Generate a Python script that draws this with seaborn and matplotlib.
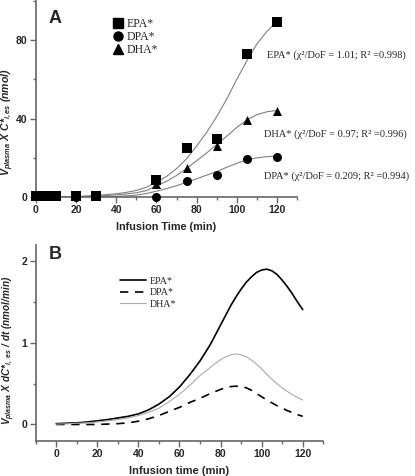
import seaborn as sns
import matplotlib.pyplot as plt
import matplotlib.ticker as mticker
from matplotlib.lines import Line2D
import pandas as pd

# panel A: measured points
t_meas = [0, 2, 4, 6, 8, 10, 20, 30, 60, 75, 90, 105, 120]
epa_meas = [0.5, 0.5, 0.5, 0.5, 0.5, 0.5, 0.4, 0.5, 8.5, 24.8, 29.4, 72.7, 89.5]
dpa_meas = [0.3, 0.3, 0.3, 0.3, 0.3, 0.3, 0.2, 0.3, 0.2, 8.3, 11.2, 19.2, 20.5]
dha_meas = [0.4, 0.4, 0.4, 0.4, 0.4, 0.4, 0.3, 0.4, 6.5, 14.6, 26.0, 39.2, 43.8]

# panel A: fitted curves
t_fit = [0, 10, 20, 30, 40, 45, 50, 55, 60, 65, 70, 75, 80, 85, 90, 95, 100, 105, 110, 115, 120]
epa_fit = [0, 0.1, 0.3, 0.8, 1.7, 2.4, 3.4, 5.0, 7.5, 10.5, 14.5, 19.5, 26, 33, 41, 50, 60, 69.5, 78, 84.5, 89.5]
dpa_fit = [0, 0, 0, 0, 0.3, 0.6, 1.0, 1.8, 3.0, 4.3, 5.8, 7.5, 9.3, 11.2, 13.0, 15.2, 17.2, 19.0, 20.0, 20.6, 20.9]
dha_fit = [0, 0.1, 0.2, 0.5, 1.1, 1.6, 2.2, 3.3, 5.8, 8.0, 11.0, 14.6, 18.5, 22.5, 26.8, 31.0, 35.5, 39.3, 42.0, 43.5, 44.2]
fit_notes = ["EPA* (χ²/DoF = 1.01; R² =0.998)",
             "DHA* (χ²/DoF = 0.97; R² =0.996)",
             "DPA* (χ²/DoF = 0.209; R² =0.994)"]

# panel B: rates
t_rate = [0, 5, 10, 15, 20, 25, 30, 35, 40, 45, 50, 55, 60, 65, 70, 75, 77.5, 80, 82.5, 85, 87.5, 90,
          92.5, 95, 97.5, 100, 102.5, 105, 107.5, 110, 112.5, 115, 117.5, 120]
epa_rate = [0.01, 0.015, 0.02, 0.03, 0.045, 0.06, 0.08, 0.10, 0.13, 0.18, 0.25, 0.34, 0.46, 0.61, 0.78, 0.98,
            1.10, 1.22, 1.34, 1.46, 1.565, 1.66, 1.745, 1.81, 1.865, 1.895, 1.905, 1.885, 1.84, 1.77,
            1.69, 1.60, 1.50, 1.41]
dpa_rate = [0, 0, 0, 0, 0, 0.005, 0.01, 0.02, 0.04, 0.07, 0.11, 0.16, 0.21, 0.27, 0.32, 0.38,
            0.405, 0.43, 0.45, 0.465, 0.47, 0.465, 0.45, 0.42, 0.38, 0.34, 0.30, 0.265, 0.23, 0.20,
            0.17, 0.145, 0.12, 0.10]
dha_rate = [0.005, 0.008, 0.015, 0.02, 0.03, 0.045, 0.06, 0.08, 0.11, 0.15, 0.2, 0.28, 0.37, 0.48, 0.6, 0.70,
            0.75, 0.795, 0.83, 0.855, 0.865, 0.855, 0.83, 0.79, 0.74, 0.68, 0.615, 0.555, 0.50, 0.45,
            0.405, 0.365, 0.33, 0.30]

sns.set_style("ticks")
plt.rcParams["font.family"] = ["Liberation Sans", "DejaVu Sans"]
plt.rcParams["mathtext.fontset"] = "custom"
plt.rcParams["mathtext.rm"] = "Liberation Sans:bold:italic"
plt.rcParams["mathtext.it"] = "Liberation Sans:bold:italic"
plt.rcParams["mathtext.bf"] = "Liberation Sans:bold:italic"
serif = ["Liberation Serif", "DejaVu Serif"]
spine_c = "#666666"

fig = plt.figure(figsize=(4.15, 4.76), dpi=100)
ax1 = fig.add_axes([0.0867, 0.586, 0.629, 0.412])
ax2 = fig.add_axes([0.086, 0.074, 0.693, 0.411])


def style_axes(ax):
    sns.despine(ax=ax)
    for s in ("left", "bottom"):
        ax.spines[s].set_color(spine_c)
        ax.spines[s].set_linewidth(1.2)
    ax.tick_params(which="major", direction="out", length=4, width=1, color=spine_c,
                   labelsize=7.5, pad=2)
    ax.tick_params(which="minor", direction="out", length=2.5, width=1, color=spine_c)
    for lab in ax.get_xticklabels() + ax.get_yticklabels():
        lab.set_fontweight("bold")


# ---- panel A ----
for y in (epa_fit, dha_fit, dpa_fit):
    sns.lineplot(x=t_fit, y=y, ax=ax1, color="#808080", linewidth=0.8)

meas = pd.DataFrame({"t": t_meas * 3,
                     "v": epa_meas + dpa_meas + dha_meas,
                     "s": ["EPA*"] * 13 + ["DPA*"] * 13 + ["DHA*"] * 13})
markers = {"EPA*": "s", "DPA*": "o", "DHA*": "^"}
for name, m in markers.items():
    d = meas[meas["s"] == name]
    sns.scatterplot(data=d, x="t", y="v", ax=ax1, marker=m, color="black", s=42,
                    edgecolor="black", linewidth=0, clip_on=False, zorder=5)

ax1.set_xlim(0, 130)
ax1.set_ylim(0, 100)
ax1.xaxis.set_major_locator(mticker.MultipleLocator(20))
ax1.xaxis.set_minor_locator(mticker.MultipleLocator(10))
ax1.yaxis.set_major_locator(mticker.FixedLocator([0, 40, 80]))
ax1.yaxis.set_minor_locator(mticker.FixedLocator([20, 60, 100]))
ax1.set_xlabel("Infusion Time (min)", fontsize=7.8, fontweight="bold", labelpad=5)
ax1.set_ylabel(r"$V_{plasma}$ X C*$_{i,es}$ (nmol)", fontsize=7.6,
               fontweight="bold", style="italic")
ax1.yaxis.set_label_coords(-0.078, 0.38)
style_axes(ax1)

h1 = [Line2D([], [], marker=m, color="black", linestyle="none", markersize=6.5)
      for m in markers.values()]
ax1.legend(h1, list(markers.keys()), loc="upper left", bbox_to_anchor=(0.27, 0.935),
           frameon=False, prop={"family": serif, "size": 8.5}, handletextpad=0.1,
           labelspacing=0.08, borderaxespad=0, handlelength=1.2)

for txt, (tx, ty) in zip(fit_notes, [(115.2, 72.4), (113.7, 32.1), (113.7, 10.7)]):
    ax1.text(tx, ty, txt, fontsize=7.5, family=serif, va="center", ha="left", clip_on=False)
ax1.text(0.05, 0.91, "A", transform=ax1.transAxes, fontsize=13, fontweight="bold",
         ha="left", va="center")

# ---- panel B ----
sns.lineplot(x=t_rate, y=epa_rate, ax=ax2, color="black", linewidth=1.2, label="EPA*")
sns.lineplot(x=t_rate, y=dpa_rate, ax=ax2, color="black", linewidth=1.2,
             linestyle=(0, (5, 4)), label="DPA*")
sns.lineplot(x=t_rate, y=dha_rate, ax=ax2, color="#aaaaaa", linewidth=0.8, label="DHA*")

ax2.set_xlim(-10, 130)
ax2.set_ylim(-0.2, 2.2)
ax2.xaxis.set_major_locator(mticker.MultipleLocator(20))
ax2.xaxis.set_minor_locator(mticker.MultipleLocator(10))
ax2.yaxis.set_major_locator(mticker.FixedLocator([0, 1, 2]))
ax2.yaxis.set_minor_locator(mticker.FixedLocator([0.5, 1.5]))
ax2.set_xlabel("Infusion time (min)", fontsize=8, fontweight="bold", labelpad=5)
ax2.set_ylabel(r"$V_{plasma}$ X dC*$_{i,\ es}$ / dt (nmol/min)", fontsize=7.2,
               fontweight="bold", style="italic")
ax2.yaxis.set_label_coords(-0.066, 0.463)
style_axes(ax2)
ax2.legend(loc="upper left", bbox_to_anchor=(0.28, 0.86), frameon=False,
           prop={"family": serif, "size": 7.2}, handletextpad=0.4, labelspacing=0.25,
           borderaxespad=0, handlelength=2.6)
ax2.text(0.046, 0.95, "B", transform=ax2.transAxes, fontsize=13, fontweight="bold",
         ha="left", va="center")

fig.savefig("out.png", dpi=100)
